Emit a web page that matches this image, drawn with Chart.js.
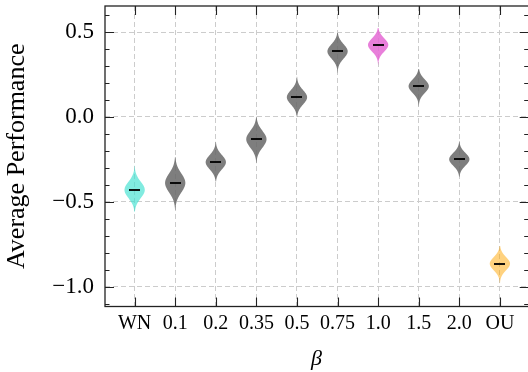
<!DOCTYPE html>
<html>
<head>
<meta charset="utf-8">
<script src="https://cdn.jsdelivr.net/npm/chart.js@4/dist/chart.umd.min.js"></script>
<style>
  html, body { margin: 0; padding: 0; background: #fff; }
</style>
</head>
<body>
<canvas id="violinChart" width="528" height="372"></canvas>
<script>
// data
const categories = ['WN', '0.1', '0.2', '0.35', '0.5', '0.75', '1.0', '1.5', '2.0', 'OU'];
const means = [-0.429, -0.388, -0.266, -0.131, 0.116, 0.386, 0.424, 0.181, -0.249, -0.863];
const lows  = [-0.557, -0.547, -0.380, -0.272, 0.002, 0.259, 0.306, 0.061, -0.351, -0.978];
const highs = [-0.286, -0.235, -0.145, 0.002, 0.237, 0.494, 0.524, 0.282, -0.141, -0.759];
const yTicks = [-1.0, -0.5, 0.0, 0.5];

const violinColors = [
    'rgba(64,224,208,0.66)',
    'rgba(105,105,105,0.86)', 'rgba(105,105,105,0.86)', 'rgba(105,105,105,0.86)',
    'rgba(105,105,105,0.86)', 'rgba(105,105,105,0.86)',
    'rgba(228,105,212,0.85)',
    'rgba(105,105,105,0.86)', 'rgba(105,105,105,0.86)',
    'rgba(255,165,0,0.5)'
];

// short horizontal bar used as the mean marker
const meanMark = document.createElement('canvas');
meanMark.width = 11;
meanMark.height = 2;
const mctx = meanMark.getContext('2d');
mctx.fillStyle = 'rgba(0,0,0,0.92)';
mctx.fillRect(0, 0, 11, 2);

// violin bodies, drawn through the scales
const violinPlugin = {
    id: 'violins',
    beforeDatasetsDraw(chart) {
        const { ctx, scales: { x, y } } = chart;
        const half = 0.25;
        ctx.save();
        means.forEach((m, i) => {
            const lo = lows[i], hi = highs[i];
            const s = (hi - lo) / 5.6;
            const n = 60;
            const pts = [];
            for (let k = 0; k <= n; k++) {
                const v = lo + (hi - lo) * k / n;
                const w = half * Math.exp(-((v - m) * (v - m)) / (2 * s * s));
                pts.push([v, w]);
            }
            ctx.beginPath();
            pts.forEach(([v, w], k) => {
                const px = x.getPixelForValue(i + w), py = y.getPixelForValue(v);
                k ? ctx.lineTo(px, py) : ctx.moveTo(px, py);
            });
            for (let k = pts.length - 1; k >= 0; k--) {
                const [v, w] = pts[k];
                ctx.lineTo(x.getPixelForValue(i - w), y.getPixelForValue(v));
            }
            ctx.closePath();
            ctx.fillStyle = violinColors[i];
            ctx.fill();
        });
        ctx.restore();
    },
    // frame with inward ticks (right spine sits just past the canvas edge)
    afterDraw(chart) {
        const { ctx, chartArea: a, scales: { x, y } } = chart;
        const right = a.right + 0.8;
        ctx.save();
        ctx.strokeStyle = '#222';
        ctx.lineWidth = 1.3;
        ctx.strokeRect(a.left, a.top, right - a.left, a.bottom - a.top);
        ctx.lineWidth = 1.1;
        ctx.beginPath();
        categories.forEach((c, i) => {
            const px = Math.round(x.getPixelForValue(i)) + 0.5;
            ctx.moveTo(px, a.bottom); ctx.lineTo(px, a.bottom - 9);
            ctx.moveTo(px, a.top); ctx.lineTo(px, a.top + 9);
        });
        for (let t = -11; t <= 6; t++) {
            const major = t % 5 === 0;
            const len = major ? 9 : 4.5;
            const py = Math.round(y.getPixelForValue(t / 10)) + 0.5;
            ctx.moveTo(a.left, py); ctx.lineTo(a.left + len, py);
            ctx.moveTo(right, py); ctx.lineTo(right - len, py);
        }
        ctx.stroke();
        ctx.restore();
    }
};

const gridColor = '#cccccc';

new Chart(document.getElementById('violinChart').getContext('2d'), {
    type: 'scatter',
    data: {
        datasets: [{
            data: means.map((m, i) => ({ x: i, y: m })),
            pointStyle: meanMark,
            radius: 0.1,
            hoverRadius: 0.1,
            borderWidth: 0
        }]
    },
    options: {
        responsive: false,
        animation: false,
        devicePixelRatio: 1,
        layout: { padding: { top: 6, right: 0, left: 0, bottom: 0 } },
        plugins: { legend: { display: false }, tooltip: { enabled: false } },
        scales: {
            x: {
                type: 'linear',
                min: -0.73,
                max: 9.69,
                afterBuildTicks: s => { s.ticks = categories.map((c, i) => ({ value: i })); },
                afterFit: s => { s.height = 65.5; s.paddingLeft = 0; s.paddingRight = 0; },
                grid: { color: gridColor, lineWidth: 1, drawTicks: false },
                border: { display: false, dash: [5, 3] },
                ticks: {
                    callback: v => categories[v],
                    font: { family: 'Liberation Serif', size: 20 },
                    color: '#000',
                    padding: 5,
                    maxRotation: 0,
                    autoSkip: false
                },
                title: {
                    display: true,
                    text: 'β',
                    font: { family: 'Liberation Serif', size: 22, style: 'italic' },
                    color: '#000',
                    padding: { top: 0, bottom: 0 }
                }
            },
            y: {
                min: -1.115,
                max: 0.653,
                afterBuildTicks: s => { s.ticks = yTicks.map(v => ({ value: v })); },
                afterFit: s => { s.width = 105; s.paddingTop = 0; s.paddingBottom = 0; },
                grid: { color: gridColor, lineWidth: 1, drawTicks: false },
                border: { display: false, dash: [5, 3] },
                ticks: {
                    callback: v => v.toFixed(1).replace('-', '\u2212'),
                    font: { family: 'Liberation Serif', size: 23 },
                    color: '#000',
                    padding: 11
                },
                title: {
                    display: true,
                    text: 'Average Performance',
                    font: { family: 'Liberation Serif', size: 26 },
                    color: '#000',
                    padding: { top: 2, bottom: 0 }
                }
            }
        }
    },
    plugins: [violinPlugin]
});
</script>
</body>
</html>
